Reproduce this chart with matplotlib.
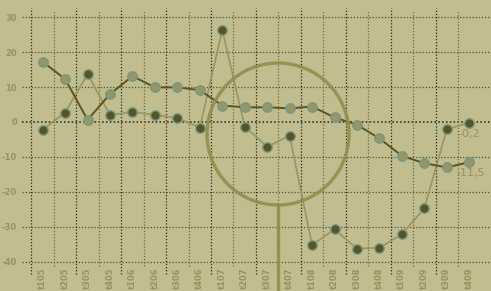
import matplotlib
matplotlib.use("Agg")
import matplotlib.pyplot as plt
from matplotlib.patches import Ellipse
from matplotlib.lines import Line2D

categories = ["t105", "t205", "t305", "t405", "t106", "t206", "t306", "t406",
              "t107", "t207", "t307", "t407", "t108", "t208", "t308", "t408",
              "t109", "t209", "t309", "t409"]
series_a = [17.2, 12.3, 0.6, 8.0, 13.1, 9.9, 9.9, 9.1, 4.7, 4.2,
            4.2, 3.9, 4.4, 1.3, -0.8, -4.7, -9.7, -11.8, -13.0, -11.5]
series_b = [-2.2, 2.7, 13.7, 2.0, 2.9, 2.0, 1.1, -1.6, 26.3, -1.3,
            -7.1, -3.9, -35.2, -30.7, -36.2, -36.0, -32.1, -24.7, -2.1, -0.2]
yticks = [30, 20, 10, 0, -10, -20, -30, -40]

BG = "#c2bd8f"
DARK = "#5c5420"
LIGHT = "#9a9460"
EDGE = "#6f9a92"
TXT = "#9a9060"

W, H = 491, 291
fig = plt.figure(figsize=(W / 100, H / 100), dpi=100, facecolor=BG)
ax = fig.add_axes([31 / W, (H - 266) / H, (W - 31) / W, (266 - 8) / H])
ax.set_facecolor(BG)
for s in ax.spines.values():
    s.set_visible(False)

x = list(range(len(categories)))
ax.set_xlim(-0.52, 19.97)
ax.set_ylim(-41.2, 32.6)

# horizontal grid
for v in yticks:
    if v == 0:
        ax.axhline(v, xmin=-0.02, xmax=1, color="#222211", lw=1.1, ls=(0, (1, 1.5)), zorder=1, clip_on=False)
    else:
        ax.axhline(v, xmin=-0.02, xmax=1, color="#55502a", lw=0.9, ls=(0, (1, 1.5)), zorder=1, clip_on=False)

# vertical grid at category boundaries
for i in range(len(categories)):
    b = i - 0.5
    if i % 2 == 0:
        ax.axvline(b, ymin=-0.03, ymax=1.0, color="#2a2812", lw=0.9, ls=(0, (1, 1.5)), zorder=1, clip_on=False)
    else:
        ax.axvline(b, ymin=0.0, ymax=0.992, color="#6e6840", lw=0.9, ls=(0, (1, 1.5)), zorder=1, clip_on=False)

ax.plot(x, series_b, color=LIGHT, lw=1.2, zorder=3)
ax.plot(x, series_a, color=DARK, lw=1.4, zorder=3)
ax.plot(x, series_b, ls="none", marker="o", ms=6.8, mfc=DARK, mec=EDGE, mew=1.0, zorder=5)
ax.plot(x, series_a, ls="none", marker="o", ms=6.8, mfc=LIGHT, mec=EDGE, mew=1.0, zorder=5)

ax.annotate("-0,2", (x[-1], series_b[-1]), xytext=(0, -11), textcoords="offset pixels",
            ha="center", va="center", color=TXT, fontsize=8, zorder=6)
ax.annotate("-11,5", (x[-1], series_a[-1]), xytext=(1, -11), textcoords="offset pixels",
            ha="center", va="center", color=TXT, fontsize=8, zorder=6)

ax.set_yticks(yticks)
ax.set_yticklabels([str(v) for v in yticks], color=TXT, fontsize=6, fontweight="bold")
ax.set_xticks(x)
ax.set_xticklabels(categories, rotation=90, color=TXT, fontsize=6, fontweight="bold")
ax.tick_params(axis="both", length=0)
ax.tick_params(axis="y", pad=10)
ax.tick_params(axis="x", pad=1)

# magnifier decoration
circ = Ellipse((278 / W, 1 - 134 / H), width=142 / W, height=142 / H,
               transform=fig.transFigure, fill=False, ec="#958b4c", lw=2.4, alpha=0.9, zorder=4)
fig.add_artist(circ)
fig.add_artist(Line2D([278 / W, 278 / W], [1 - 205 / H, 0], transform=fig.transFigure,
                      color="#958b4c", lw=2.4, alpha=0.9, zorder=4))

fig.savefig("out.png", dpi=100, facecolor=BG)
